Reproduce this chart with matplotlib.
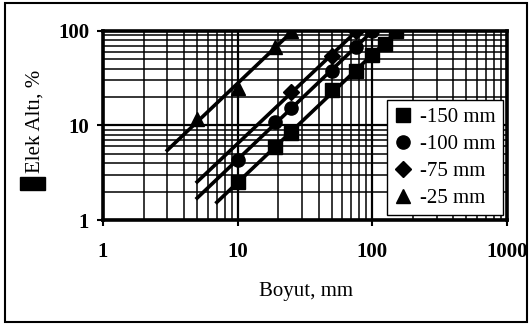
import numpy as np
import matplotlib
matplotlib.use('Agg')
import matplotlib.pyplot as plt
from matplotlib import ticker
from matplotlib.patches import Rectangle

# Elek analizi verileri: boyut (mm) ve elek altı (%)
boyut_150 = [10, 19, 25, 50, 75, 100, 125, 150]
elek_150 = [2.5, 5.9, 8.3, 24, 38, 56, 72, 100]

boyut_100 = [10, 19, 25, 50, 75, 100]
elek_100 = [4.3, 10.8, 15.2, 37.5, 68, 100]

boyut_75 = [25, 50, 75]
elek_75 = [22.5, 54, 100]

boyut_25 = [5, 10, 19, 25]
elek_25 = [11.6, 25, 68, 100]

etiketler = ['-150 mm', '-100 mm', '-75 mm', '-25 mm']
isaretler = ['s', 'o', 'D', '^']
# regresyon doğrularının başladığı boyut
dogru_baslangic = [7, 5, 5, 3]

plt.rcParams['font.family'] = ['Liberation Serif', 'DejaVu Serif']
plt.rcParams['font.size'] = 15


def main():
    fig = plt.figure(figsize=(5.32, 3.29), dpi=100)
    ax = fig.add_axes([0.1936, 0.3313, 0.7594, 0.5745])

    seriler = [(boyut_150, elek_150), (boyut_100, elek_100),
               (boyut_75, elek_75), (boyut_25, elek_25)]

    for (x, y), etiket, isaret, x0 in zip(seriler, etiketler, isaretler, dogru_baslangic):
        # log-log doğru uydurma (Gates-Gaudin-Schuhmann)
        egim, kesim = np.polyfit(np.log10(x), np.log10(y), 1)
        xs = np.array([x0, max(x)])
        ax.plot(xs, 10 ** (kesim + egim * np.log10(xs)), color='black', lw=2.6,
                zorder=3)
        boy = 9.5 if isaret != 'D' else 8
        ax.plot(x, y, linestyle='none', marker=isaret, ms=boy, color='black',
                label=etiket, zorder=4)

    ax.set_xscale('log')
    ax.set_yscale('log')
    ax.set_xlim(1, 1000)
    ax.set_ylim(1, 100)

    fmt = ticker.FuncFormatter(lambda v, _: f'{v:g}')
    ax.xaxis.set_major_formatter(fmt)
    ax.yaxis.set_major_formatter(fmt)
    ax.xaxis.set_minor_formatter(ticker.NullFormatter())
    ax.yaxis.set_minor_formatter(ticker.NullFormatter())

    ax.grid(True, which='major', color='black', lw=1.6)
    ax.grid(True, which='minor', color='black', lw=1.1)
    ax.set_axisbelow(True)

    ax.tick_params(which='major', direction='out', length=4, width=1.5,
                   colors='black')
    ax.tick_params(axis='x', which='major', pad=12)
    ax.tick_params(axis='y', which='major', pad=6)
    ax.tick_params(which='minor', length=0)
    for t in ax.get_xticklabels() + ax.get_yticklabels():
        t.set_fontweight('bold')

    for s in ax.spines.values():
        s.set_linewidth(2.6)
        s.set_color('black')

    leg = ax.legend(loc='lower right', bbox_to_anchor=(0.99, 0.026),
                    borderaxespad=0, frameon=True, fancybox=False,
                    edgecolor='black', framealpha=1, fontsize=15,
                    handlelength=0.9, handletextpad=0.35, borderpad=0.35,
                    labelspacing=0.35)
    leg.get_frame().set_linewidth(1.0)

    fig.text(0.575, 0.1155, 'Boyut, mm', ha='center', va='center', fontsize=15)
    fig.text(0.066, 0.632, 'Elek Altı, %', ha='center', va='center',
             rotation=90, fontsize=15)
    # seri anahtarı (siyah blok)
    fig.add_artist(Rectangle((20 / 532, 1 - 190 / 329), 25 / 532, 13 / 329,
                             transform=fig.transFigure, color='black'))

    # dış çerçeve
    fig.add_artist(Rectangle((5 / 532, 7 / 329), 522 / 532, 319 / 329,
                             transform=fig.transFigure, fill=False,
                             edgecolor='black', lw=1.5))

    fig.savefig('out.png', dpi=100)


if __name__ == "__main__":
    main()
